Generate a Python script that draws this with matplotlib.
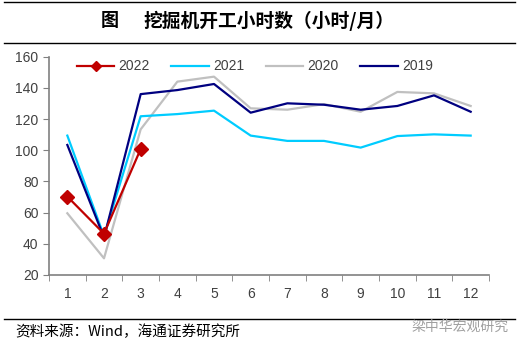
import numpy as np
import matplotlib.pyplot as plt
from matplotlib.lines import Line2D

plt.rcParams['font.family'] = ['Liberation Sans', 'Noto Sans CJK SC', 'DejaVu Sans']

months = [str(m) for m in range(1, 13)]
v2022 = [70.3, 46.5, 100.8]
v2021 = [109.4, 45.0, 121.8, 123.2, 125.4, 109.4, 106.0, 106.0, 101.7, 109.1, 110.2, 109.4]
v2020 = [59.6, 30.7, 113.4, 144.0, 147.2, 126.9, 126.0, 129.6, 124.7, 137.4, 136.5, 128.4]
v2019 = [103.4, 44.0, 136.0, 138.6, 142.5, 124.1, 130.1, 129.2, 126.0, 128.4, 135.2, 124.7]

cjk = ['Noto Sans CJK SC', 'DejaVu Sans']

fig = plt.figure(figsize=(5.2, 3.48), dpi=100)
ax = fig.add_axes([49/520, 1-275/348, 440/520, (275-56.7)/348])

x = np.arange(len(months))
ax.plot(x, v2020, color='#C0C0C0', lw=1.6, label='2020')
ax.plot(x, v2021, color='#00CCFF', lw=1.6, label='2021')
ax.plot(x, v2019, color='#000080', lw=1.6, label='2019')
ax.plot(x[:len(v2022)], v2022, color='#C00000', lw=1.6, marker='D', ms=7, label='2022')

ax.set_xlim(-0.5, 11.5)
ax.set_ylim(20, 160)
ax.set_yticks(range(20, 161, 20))
ax.set_xticks(x)
ax.set_xticklabels(months)
ax.set_xticks(np.arange(-0.5, 12, 1), minor=True)
ax.tick_params(axis='x', which='major', length=0, pad=9)
ax.tick_params(axis='x', which='minor', length=4, color='#808080', direction='out')
ax.tick_params(axis='y', length=4, color='#808080', direction='out')
ax.tick_params(labelsize=10, labelcolor='#404040')
for s in ['top', 'right']:
    ax.spines[s].set_visible(False)
for s in ['left', 'bottom']:
    ax.spines[s].set_color('#808080')
    ax.spines[s].set_linewidth(1.2)

handles = [
    Line2D([], [], color='#C00000', lw=1.6, marker='D', ms=5),
    Line2D([], [], color='#00CCFF', lw=1.6),
    Line2D([], [], color='#C0C0C0', lw=1.6),
    Line2D([], [], color='#000080', lw=1.6),
]
leg = ax.legend(handles, ['2022', '2021', '2020', '2019'], ncol=4, frameon=False,
                loc='upper left', bbox_to_anchor=(0.035, 1.045), fontsize=10,
                handlelength=2.7, columnspacing=1.55, handletextpad=0.3)
for t in leg.get_texts():
    t.set_color('#404040')

# title and frame lines
fig.add_artist(Line2D([4/520, 515/520], [1-2/348, 1-2/348], color='black', lw=1))
fig.add_artist(Line2D([4/520, 515/520], [1-43/348, 1-43/348], color='black', lw=1))
fig.text(110/520, 1-21/348, '图', ha='center', va='center',
         fontsize=13, fontweight='bold', family=cjk)
fig.text(143/520, 1-21/348, '挖掘机开工小时数（小时/月）', ha='left', va='center',
         fontsize=13.5, fontweight='bold', family=cjk)

fig.add_artist(Line2D([4/520, 515/520], [1-319/348, 1-319/348], color='black', lw=1))
fig.text(15/520, 1-332/348, '资料来源：Wind，海通证券研究所', ha='left', va='center',
         fontsize=10.5, family=cjk)
fig.text(412/520, 1-327/348, '梁中华宏观研究', ha='left', va='center', fontsize=10,
         color='#A0A0A0', family=cjk)

fig.savefig('out.png', dpi=100)
